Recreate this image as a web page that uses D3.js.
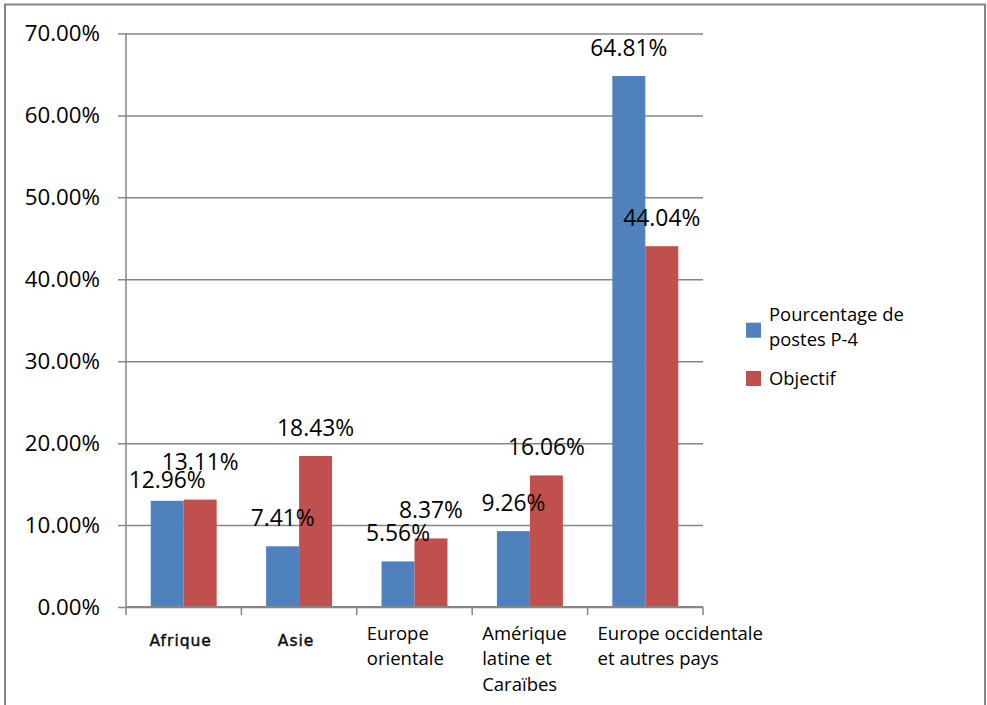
<!DOCTYPE html>
<html>
<head>
<meta charset="utf-8">
<script src="https://cdn.jsdelivr.net/npm/d3@7"></script>
<style>
  body { margin: 0; background: #fff; }
  text { font-family: "Open Sans", sans-serif; fill: #000; }
</style>
</head>
<body>
<div class="chart"></div>
<script>
// chart data
var categories = ["Afrique", "Asie", "Europe orientale", "Amérique latine et Caraïbes", "Europe occidentale et autres pays"];
var categoryLines = [["Afrique"], ["Asie"], ["Europe", "orientale"], ["Amérique", "latine et", "Caraïbes"], ["Europe occidentale", "et autres pays"]];
var seriesNames = ["Pourcentage de postes P-4", "Objectif"];
var legendLines = [["Pourcentage de", "postes P-4"], ["Objectif"]];
var p4Values = [0.1296, 0.0741, 0.0556, 0.0926, 0.6481];
var objectifValues = [0.1311, 0.1843, 0.0837, 0.1606, 0.4404];
var yTicks = [0, 0.1, 0.2, 0.3, 0.4, 0.5, 0.6, 0.7];

var colors = ["#4F81BD", "#C0504D"];
var gridColor = "#868686";

var svgWidth = 987;
var svgHeight = 705;

var svg = d3.select(".chart")
  .append("svg")
  .attr("width", svgWidth)
  .attr("height", svgHeight);

// outer frame (bottom edge is cut off in the original)
svg.append("rect")
  .attr("x", 5)
  .attr("y", 4.5)
  .attr("width", 980)
  .attr("height", 720)
  .attr("fill", "none")
  .attr("stroke", gridColor)
  .attr("stroke-width", 2);

var plot = {left: 126, right: 703, top: 33.5, bottom: 607};

var x0 = d3.scaleBand()
  .domain(categories)
  .range([plot.left, plot.right])
  .padding(0);

// gap width 150% -> two bars take 2 of 3.5 bar widths
var barW = x0.bandwidth() / 3.5;
var x1 = d3.scaleBand()
  .domain(seriesNames)
  .range([barW * 0.75, barW * 2.75]);

var y = d3.scaleLinear()
  .domain([0, 0.7])
  .range([plot.bottom, plot.top]);

// gridlines + left axis
var leftAxis = d3.axisLeft(y)
  .tickValues(yTicks)
  .tickFormat(d => (d * 100).toFixed(2) + "%")
  .tickSizeInner(-(plot.right - plot.left))
  .tickSizeOuter(0)
  .tickPadding(18);

var yAxisG = svg.append("g")
  .attr("transform", `translate(${plot.left},0)`)
  .call(leftAxis);

yAxisG.select(".domain").remove();
yAxisG.selectAll(".tick line")
  .attr("x1", -8)
  .attr("stroke", gridColor)
  .attr("stroke-width", 1.5);
yAxisG.selectAll(".tick text")
  .attr("x", -26)
  .style("font-family", "'Open Sans', sans-serif")
  .style("font-size", "22.3px")
  .attr("fill", "#000");

// vertical axis line
svg.append("line")
  .attr("x1", plot.left).attr("x2", plot.left)
  .attr("y1", plot.top).attr("y2", plot.bottom)
  .attr("stroke", gridColor)
  .attr("stroke-width", 1.5);

// bars
var rows = categories.map((c, i) => ({cat: c, vals: [p4Values[i], objectifValues[i]]}));

var groups = svg.selectAll("g.cat")
  .data(rows)
  .join("g")
    .attr("class", "cat")
    .attr("transform", d => `translate(${x0(d.cat)},0)`);

groups.selectAll("rect")
  .data(d => d.vals.map((v, j) => ({name: seriesNames[j], v: v, j: j})))
  .join("rect")
    .attr("x", d => x1(d.name))
    .attr("width", x1.bandwidth())
    .attr("y", d => y(d.v))
    .attr("height", d => y(0) - y(d.v))
    .attr("fill", d => colors[d.j]);

// data labels, with a simple nudge when the two labels of a group collide
groups.each(function(d) {
  var g = d3.select(this);
  var labels = d.vals.map((v, j) => ({
    v: v,
    cx: x1(seriesNames[j]) + x1.bandwidth() / 2,
    by: y(v) - 20
  }));
  var minSep = 18;
  if (Math.abs(labels[0].by - labels[1].by) < minSep) {
    var mid = (labels[0].by + labels[1].by) / 2;
    var hi = labels[0].v >= labels[1].v ? 0 : 1;
    labels[hi].by = mid - minSep / 2 - 1;
    labels[1 - hi].by = mid + minSep / 2 - 1;
  }
  g.selectAll("text.val")
    .data(labels)
    .join("text")
      .attr("class", "val")
      .attr("x", l => l.cx)
      .attr("y", l => l.by)
      .attr("text-anchor", "middle")
      .style("font-size", "22.8px")
      .text(l => (l.v * 100).toFixed(2) + "%");
});

// bottom axis
var bottom = svg.append("g");
bottom.append("line")
  .attr("x1", plot.left).attr("x2", plot.right)
  .attr("y1", plot.bottom).attr("y2", plot.bottom)
  .attr("stroke", gridColor)
  .attr("stroke-width", 2);

var bounds = categories.map(c => x0(c)).concat([plot.right]);
bottom.selectAll("line.tk")
  .data(bounds)
  .join("line")
    .attr("class", "tk")
    .attr("x1", d => d).attr("x2", d => d)
    .attr("y1", plot.bottom).attr("y2", plot.bottom + 8)
    .attr("stroke", gridColor)
    .attr("stroke-width", 1.5);

// category labels
categories.forEach(function(c, i) {
  var lines = categoryLines[i];
  var t = bottom.append("text");
  if (lines.length === 1) {
    t.attr("x", x0(c) + x0.bandwidth() / 2 - 3)
      .attr("y", plot.bottom + 39)
      .attr("text-anchor", "middle")
      .style("font-family", "'DejaVu Sans', sans-serif")
      .style("font-size", "15.5px")
      .style("letter-spacing", "1px")
      .attr("fill", "#222")
      .attr("stroke", "#222")
      .attr("stroke-width", 0.45)
      .text(lines[0]);
  } else {
    t.style("font-size", "18.5px");
    lines.forEach(function(ln, k) {
      t.append("tspan")
        .attr("x", x0(c) + 10)
        .attr("y", plot.bottom + 33 + k * 25.3)
        .text(ln);
    });
  }
});

// legend
var legend = svg.append("g").attr("transform", "translate(746,0)");
var legendY = [[320.7, 346], [385]];
var swatchY = [322.7, 371];
seriesNames.forEach(function(s, i) {
  legend.append("rect")
    .attr("x", 0)
    .attr("y", swatchY[i])
    .attr("width", 15)
    .attr("height", 15)
    .attr("fill", colors[i]);
  var t = legend.append("text").style("font-size", "18.4px");
  legendLines[i].forEach(function(ln, k) {
    t.append("tspan")
      .attr("x", 23)
      .attr("y", legendY[i][k])
      .text(ln);
  });
});
</script>
</body>
</html>
